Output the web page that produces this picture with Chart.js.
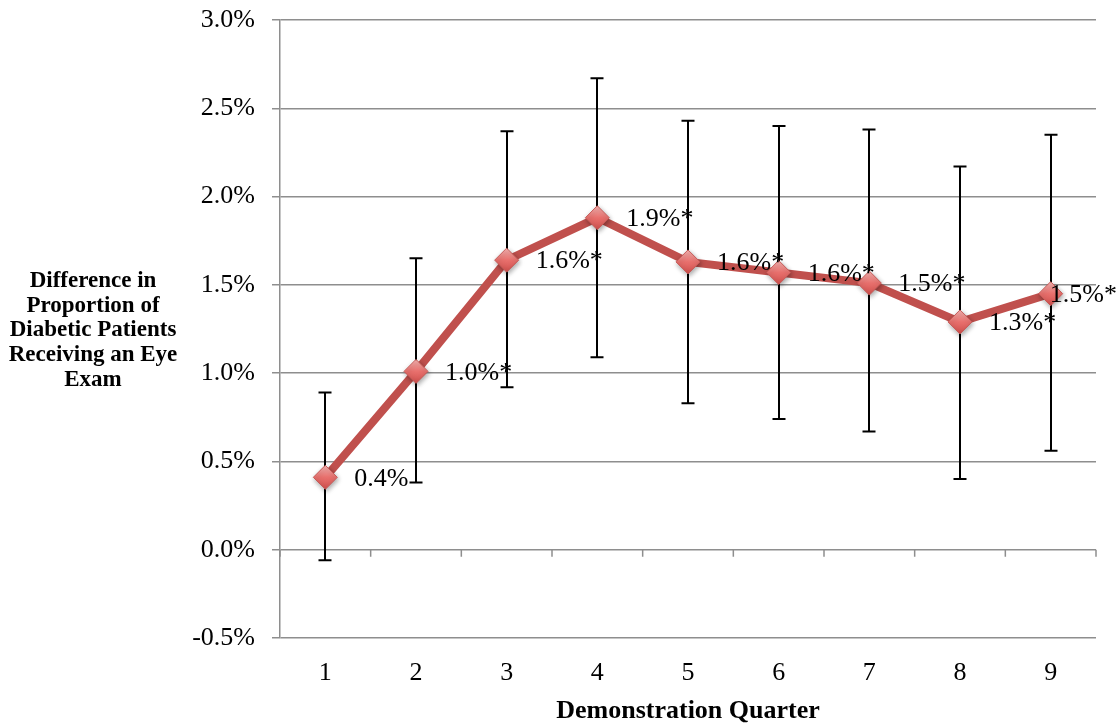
<!DOCTYPE html>
<html>
<head>
<meta charset="utf-8">
<script src="https://cdn.jsdelivr.net/npm/chart.js@4.4.1/dist/chart.umd.min.js"></script>
<style>
  html, body { margin: 0; padding: 0; background: #ffffff; }
  #c { display: block; }
</style>
</head>
<body>
<canvas id="c" width="1119" height="727"></canvas>
<script>
// ---- data ----
const quarters = ['1', '2', '3', '4', '5', '6', '7', '8', '9'];
const difference = [0.41, 1.01, 1.64, 1.88, 1.63, 1.57, 1.51, 1.29, 1.45];
const ciLow  = [-0.06, 0.38, 0.92, 1.09, 0.83, 0.74, 0.67, 0.40, 0.56];
const ciHigh = [0.89, 1.65, 2.37, 2.67, 2.43, 2.40, 2.38, 2.17, 2.35];
const pointLabels = ['0.4%', '1.0%*', '1.6%*', '1.9%*', '1.6%*', '1.6%*', '1.5%*', '1.3%*', '1.5%*'];
const yTickValues = [-0.5, 0.0, 0.5, 1.0, 1.5, 2.0, 2.5, 3.0];
const yTitleLines = ['Difference in', 'Proportion of', 'Diabetic Patients', 'Receiving an Eye', 'Exam'];
const xTitle = 'Demonstration Quarter';

const SERIF = '"Liberation Serif", "Times New Roman", serif';
const GRID = '#8e8e8e';
const RED = '#C0504D';

// error bars, drawn after the line, before the markers
const errorBars = {
  id: 'errorBars',
  afterDatasetDraw(chart, args) {
    if (args.index !== 0) return;
    const {ctx, scales: {x, y}} = chart;
    ctx.save();
    ctx.strokeStyle = '#000000';
    ctx.lineWidth = 2;
    const cap = 6.5;
    for (let i = 0; i < quarters.length; i++) {
      const px = Math.round(x.getPixelForValue(i));
      const yl = y.getPixelForValue(ciLow[i]);
      const yh = y.getPixelForValue(ciHigh[i]);
      ctx.beginPath();
      ctx.moveTo(px, yh); ctx.lineTo(px, yl);
      ctx.moveTo(px - cap, yh); ctx.lineTo(px + cap, yh);
      ctx.moveTo(px - cap, yl); ctx.lineTo(px + cap, yl);
      ctx.stroke();
    }
    ctx.restore();
  }
};

// shadow under markers
const markerShadow = {
  id: 'markerShadow',
  beforeDatasetDraw(chart, args) {
    if (args.index !== 1) return;
    const ctx = chart.ctx;
    ctx.save();
    ctx.shadowColor = 'rgba(0,0,0,0.35)';
    ctx.shadowBlur = 5;
    ctx.shadowOffsetX = 1;
    ctx.shadowOffsetY = 2;
  },
  afterDatasetDraw(chart, args) {
    if (args.index !== 1) return;
    chart.ctx.restore();
  }
};

// category tick marks on the zero line
const zeroAxisTicks = {
  id: 'zeroAxisTicks',
  afterDraw(chart) {
    const {ctx, scales: {x, y}} = chart;
    const y0 = y.getPixelForValue(0);
    const w = x.getPixelForValue(1) - x.getPixelForValue(0);
    const start = x.getPixelForValue(0) - w / 2;
    ctx.save();
    ctx.strokeStyle = GRID;
    ctx.lineWidth = 1.5;
    ctx.beginPath();
    for (let i = 0; i <= quarters.length; i++) {
      const px = start + i * w;
      ctx.moveTo(px, y0); ctx.lineTo(px, y0 + 7);
    }
    ctx.stroke();
    ctx.restore();
  }
};

// data labels and y title
const textLayer = {
  id: 'textLayer',
  afterDatasetsDraw(chart) {
    const {ctx, scales: {x, y}} = chart;
    ctx.save();
    ctx.fillStyle = '#000000';
    ctx.font = '26px ' + SERIF;
    ctx.textAlign = 'left';
    ctx.textBaseline = 'middle';
    for (let i = 0; i < quarters.length; i++) {
      const px = x.getPixelForValue(i);
      const py = y.getPixelForValue(difference[i]);
      const w = ctx.measureText(pointLabels[i]).width;
      let tx = px + 29;
      if (tx + w > chart.width - 2) tx = chart.width - 2 - w;
      ctx.fillText(pointLabels[i], tx, py + 1.5);
    }
    ctx.font = 'bold 23px ' + SERIF;
    ctx.textAlign = 'center';
    for (let k = 0; k < yTitleLines.length; k++) {
      ctx.fillText(yTitleLines[k], 93, 281 + k * 24.7);
    }
    ctx.restore();
  }
};

function markerFill(context) {
  const chart = context.chart;
  const ys = chart.scales && chart.scales.y;
  if (!ys || context.type !== 'data' || !context.parsed) return '#E06A67';
  const py = ys.getPixelForValue(context.parsed.y);
  if (!isFinite(py)) return '#E06A67';
  const g = chart.ctx.createLinearGradient(0, py - 12, 0, py + 12);
  g.addColorStop(0, '#F6B3B1');
  g.addColorStop(0.5, '#E8706D');
  g.addColorStop(1, '#D0504D');
  return g;
}

new Chart(document.getElementById('c'), {
  type: 'line',
  data: {
    labels: quarters,
    datasets: [
      {
        data: difference,
        borderColor: RED,
        borderWidth: 8,
        pointRadius: 0,
        fill: false,
        tension: 0,
        order: 2
      },
      {
        data: difference,
        showLine: false,
        pointStyle: 'rectRot',
        pointRadius: 12,
        pointHoverRadius: 12,
        pointBackgroundColor: markerFill,
        pointBorderColor: '#C65A57',
        pointBorderWidth: 1,
        order: 1
      }
    ]
  },
  options: {
    responsive: false,
    animation: false,
    devicePixelRatio: 1,
    layout: { padding: { left: 0, right: 23, top: 20, bottom: 0 } },
    plugins: {
      legend: { display: false },
      tooltip: { enabled: false },
      title: { display: false }
    },
    scales: {
      x: {
        type: 'category',
        offset: true,
        grid: { display: false },
        border: { display: false },
        ticks: {
          color: '#000000',
          font: { family: SERIF, size: 26 },
          padding: 12,
          maxRotation: 0,
          autoSkip: false
        },
        title: {
          display: true,
          text: xTitle,
          color: '#000000',
          font: { family: SERIF, size: 26, weight: 'bold' },
          padding: { top: 0, bottom: 0 }
        },
        afterFit(s) { s.height = 89; s.paddingLeft = 0; s.paddingRight = 0; }
      },
      y: {
        min: -0.5,
        max: 3.0,
        afterBuildTicks(s) { s.ticks = yTickValues.map(v => ({ value: v })); },
        grid: {
          color: GRID,
          lineWidth: 1.5,
          tickLength: 8,
          drawTicks: true
        },
        border: { display: true, color: GRID, width: 1.5 },
        ticks: {
          color: '#000000',
          font: { family: SERIF, size: 26 },
          padding: 17,
          callback: v => Number(v).toFixed(1) + '%'
        },
        afterFit(s) { s.width = 280; s.paddingTop = 0; s.paddingBottom = 0; }
      }
    }
  },
  plugins: [errorBars, markerShadow, zeroAxisTicks, textLayer]
});
</script>
</body>
</html>
